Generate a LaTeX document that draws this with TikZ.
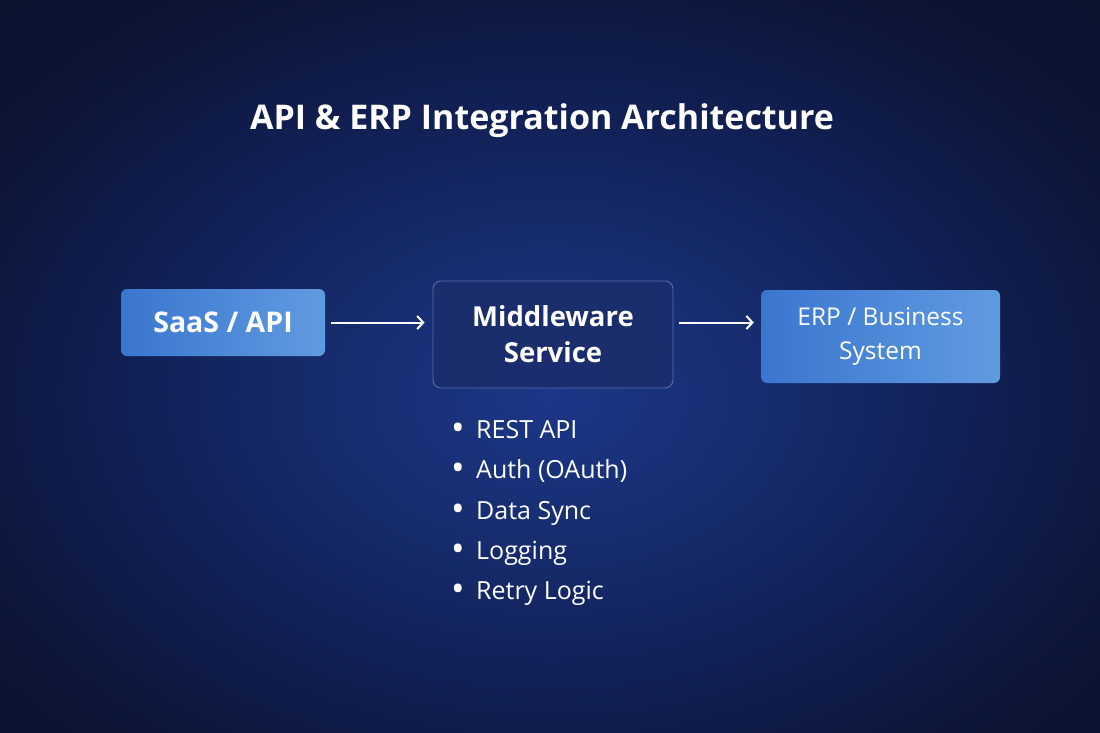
\documentclass[tikz,border=0pt]{standalone}
\usepackage{fontspec}
\setmainfont{Open Sans}
\usetikzlibrary{arrows.meta}
\definecolor{bg}{HTML}{0A1026}
\definecolor{g0}{HTML}{1C3787}
\definecolor{g1}{HTML}{172D70}
\definecolor{g2}{HTML}{112055}
\definecolor{g3}{HTML}{0C1536}
\definecolor{boxL}{HTML}{3A76CF}
\definecolor{boxR}{HTML}{609BE0}
\definecolor{mwfill}{HTML}{1B2D6C}
\definecolor{mwline}{HTML}{5570B0}
\pgfdeclareradialshading{glow}{\pgfpoint{0bp}{0bp}}{color(0bp)=(g0); color(8bp)=(g1); color(16bp)=(g2); color(25bp)=(g3); color(36bp)=(bg); color(50bp)=(bg)}
\begin{document}
\begin{tikzpicture}[x=1pt,y=-1pt,
  bluebox/.style={rounded corners=6pt, left color=boxL, right color=boxR, draw=none, text=white, align=center, inner sep=0pt},
  midbox/.style={rounded corners=8pt, fill=mwfill, fill opacity=0.9, text opacity=1, draw=mwline, line width=0.9pt, text=white, align=center, inner sep=0pt},
  arr/.style={white, line width=2pt, -{Straight Barb[length=6pt,width=13pt,line width=2pt]}},
  bullet/.style={anchor=base west, text=white, font=\fontsize{25}{30}\selectfont, inner sep=0pt}]
\useasboundingbox (0,0) rectangle (1100,733);
\fill[bg] (0,0) rectangle (1100,733);
\begin{scope}
\clip (0,0) rectangle (1100,733);
\shade[shading=glow] (-100,-55) rectangle (1200,845);
\end{scope}
\node[text=white, font=\bfseries\fontsize{34}{40}\selectfont] (title) at (542,121) {API \& ERP Integration Architecture};
\node[bluebox, minimum width=204pt, minimum height=67pt, font=\bfseries\fontsize{28.5}{34}\selectfont] (saas) at (223,322.5) {SaaS / API};
\node[midbox, minimum width=240pt, minimum height=107pt, font=\bfseries\fontsize{27.5}{36}\selectfont] (mw) at (553,334.5) {Middleware\\Service};
\node[bluebox, minimum width=239pt, minimum height=93pt, font=\fontsize{24.5}{34}\selectfont] (erp) at (880.5,336.5) {ERP / Business\\System};
\draw[arr] ([xshift=6pt]saas.east) -- ([xshift=-8pt]saas.east -| mw.west);
\draw[arr] ([xshift=6pt]saas.east -| mw.east) -- ([xshift=-7pt]saas.east -| erp.west);
\newcommand{\bdot}{\makebox[25pt][l]{\raisebox{-2.5pt}{\fontsize{36}{30}\selectfont\textbullet}}}
\node[bullet] (b1) at (451,438) {\bdot REST API};
\node[bullet] (b2) at (451,478) {\bdot Auth (OAuth)};
\node[bullet] (b3) at (451,519) {\bdot Data Sync};
\node[bullet] (b4) at (451,559) {\bdot Logging};
\node[bullet] (b5) at (451,599) {\bdot Retry Logic};
\end{tikzpicture}
\end{document}
